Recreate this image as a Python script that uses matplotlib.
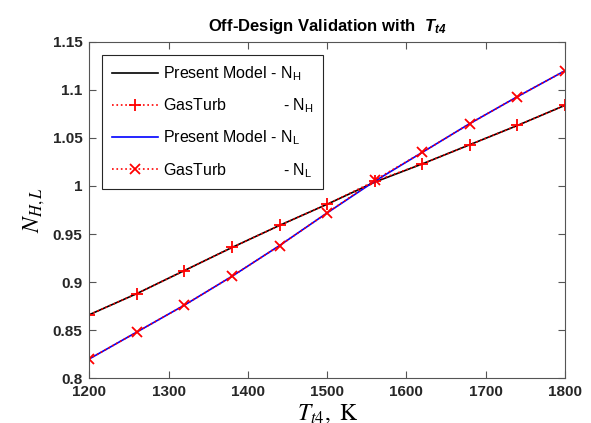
import numpy as np
import matplotlib
matplotlib.use('Agg')
import matplotlib.pyplot as plt
from matplotlib.font_manager import FontProperties

plt.rcParams['font.family'] = 'Liberation Sans'
plt.rcParams['mathtext.fontset'] = 'custom'
plt.rcParams['mathtext.rm'] = 'Liberation Sans'
plt.rcParams['mathtext.it'] = 'Liberation Sans:italic'
plt.rcParams['mathtext.bf'] = 'Liberation Sans:bold'
plt.rcParams['mathtext.bfit'] = 'Liberation Sans:bold:italic'

# data
tt4 = [1200, 1260, 1320, 1380, 1440, 1500, 1560, 1620, 1680, 1740, 1800]
nh_model = [0.866, 0.888, 0.912, 0.936, 0.959, 0.981, 1.004, 1.023, 1.043, 1.063, 1.084]
nh_gasturb = [0.866, 0.888, 0.912, 0.936, 0.959, 0.981, 1.005, 1.023, 1.043, 1.063, 1.084]
nl_model = [0.820, 0.848, 0.876, 0.906, 0.938, 0.972, 1.005, 1.035, 1.065, 1.093, 1.120]
nl_gasturb = [0.820, 0.848, 0.876, 0.906, 0.938, 0.972, 1.006, 1.035, 1.065, 1.093, 1.120]

xticks = [1200, 1300, 1400, 1500, 1600, 1700, 1800]
yticks = [0.8, 0.85, 0.9, 0.95, 1, 1.05, 1.1, 1.15]
yticklabels = ['0.8', '0.85', '0.9', '0.95', '1', '1.05', '1.1', '1.15']

axcol = '#555555'
txtcol = '#262626'

fig = plt.figure(figsize=(5.91, 4.23), dpi=100)
ax = fig.add_axes([0.151, 0.106, 0.805, 0.795])

ax.plot(tt4, nh_model, color='black', lw=1.2, label=r'Present Model - N$_\mathrm{H}$')
ax.plot(tt4, nh_gasturb, color='red', ls=':', lw=1.2, marker='+', ms=9, mew=1.3,
        label=r'GasTurb             - N$_\mathrm{H}$')
ax.plot(tt4, nl_model, color='blue', lw=1.2, label=r'Present Model - N$_\mathrm{L}$')
ax.plot(tt4, nl_gasturb, color='red', ls=':', lw=1.2, marker='x', ms=6.5, mew=1.3,
        label=r'GasTurb             - N$_\mathrm{L}$')

ax.set_xlim(1200, 1800)
ax.set_ylim(0.8, 1.15)
ax.set_xticks(xticks)
ax.set_xticklabels([str(v) for v in xticks], fontweight='bold', fontsize=11)
ax.set_yticks(yticks)
ax.set_yticklabels(yticklabels, fontweight='bold', fontsize=11)
ax.tick_params(direction='in', top=True, right=True, length=5, width=0.8, colors=axcol,
               labelcolor=txtcol, pad=5)
for s in ax.spines.values():
    s.set_color(axcol)
    s.set_linewidth(0.8)

ax.set_title(r'Off-Design Validation with  $\mathbfit{T}_{\mathbfit{t4}}$', fontweight='bold',
             fontsize=12, color='black', pad=8)
ax.set_xlabel(r'$T_{t4},\ \mathrm{K}$', fontsize=17, labelpad=2, math_fontfamily='stix')
ax.set_ylabel(r'$N_{H,L}$', fontsize=17, labelpad=4, math_fontfamily='stix')

leg = ax.legend(loc='upper left', prop=FontProperties(family='Liberation Sans', size=11.5),
                frameon=True, fancybox=False, edgecolor=txtcol, framealpha=1,
                handlelength=2.9, handletextpad=0.3, borderaxespad=0.8, borderpad=0.6,
                labelspacing=0.85)
leg.get_frame().set_linewidth(0.8)

fig.savefig('out.png', dpi=100)
